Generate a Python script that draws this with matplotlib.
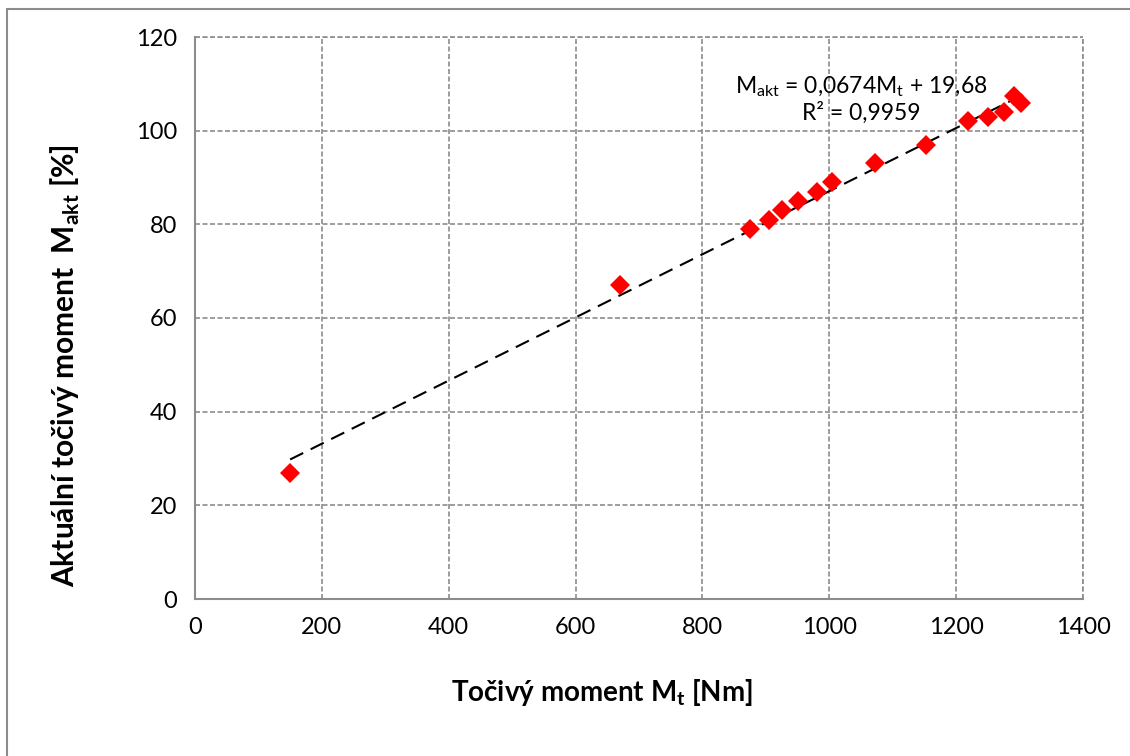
import numpy as np
import matplotlib.pyplot as plt
from matplotlib.patches import Rectangle

torque_nm = [150, 670, 875, 905, 925, 950, 980, 1005, 1072, 1152, 1218, 1250, 1275, 1292, 1303]
torque_pct = [27, 67, 79, 81, 83, 85, 87, 89, 93, 97, 102, 103, 104, 107.3, 106]

# linear trend from the chart label
slope = 0.0674
intercept = 19.68

x_ticks = [0, 200, 400, 600, 800, 1000, 1200, 1400]
y_ticks = [0, 20, 40, 60, 80, 100, 120]

plt.rcParams['font.family'] = ['Lato', 'DejaVu Sans']

fig = plt.figure(figsize=(11.3, 7.56), dpi=100)
ax = fig.add_axes([195 / 1130, 157 / 756, 888 / 1130, 562 / 756])

# grey chart border (only left/top visible in the reference)
fig.patches.append(Rectangle((7 / 1130, -0.1), 1.2, (756 - 9) / 756 + 0.1,
                             transform=fig.transFigure, fill=False,
                             edgecolor='#8c8c8c', linewidth=1.5))

# trend line over the data range
x_fit = np.array([min(torque_nm), max(torque_nm)])
ax.plot(x_fit, slope * x_fit + intercept, color='black', linewidth=1.5,
        dashes=(7, 4), zorder=3)

ax.plot(torque_nm, torque_pct, linestyle='none', marker='D', markersize=10,
        color='#ff0000', markeredgewidth=0, zorder=4)

ax.set_xlim(0, 1400)
ax.set_ylim(0, 120)
ax.set_xticks(x_ticks)
ax.set_yticks(y_ticks)
ax.grid(True, color='#8c8c8c', linestyle=(0, (3, 1.5)), linewidth=1.2)
ax.set_axisbelow(True)

# dashed border lines at the top and right, solid left and bottom
for side in ['top', 'right']:
    ax.spines[side].set_visible(False)
ax.axhline(120, color='#8c8c8c', linestyle=(0, (3, 1.5)), linewidth=1.2, clip_on=False)
ax.axvline(1400, color='#8c8c8c', linestyle=(0, (3, 1.5)), linewidth=1.2, clip_on=False)
for side in ['left', 'bottom']:
    ax.spines[side].set_color('#8c8c8c')
    ax.spines[side].set_linewidth(1.5)

ax.tick_params(length=0, labelsize=17, pad=13)

ax.set_xlabel('Točivý moment M$_\\mathregular{t}$ [Nm]', fontsize=20,
              fontweight='bold')
ax.set_ylabel('Aktuální točivý moment  M$_\\mathregular{akt}$ [%]', fontsize=21.5,
              fontweight='bold')
ax.xaxis.set_label_coords(0.458, -0.138)
ax.yaxis.set_label_coords(-0.127, 0.416)

ax.text(1050, 101.5, 'M$_\\mathregular{akt}$ = 0,0674M$_\\mathregular{t}$ + 19,68\nR² = 0,9959',
        fontsize=16.5, ha='center', va='bottom', multialignment='center',
        linespacing=1.15)

fig.savefig('out.png', dpi=100)
